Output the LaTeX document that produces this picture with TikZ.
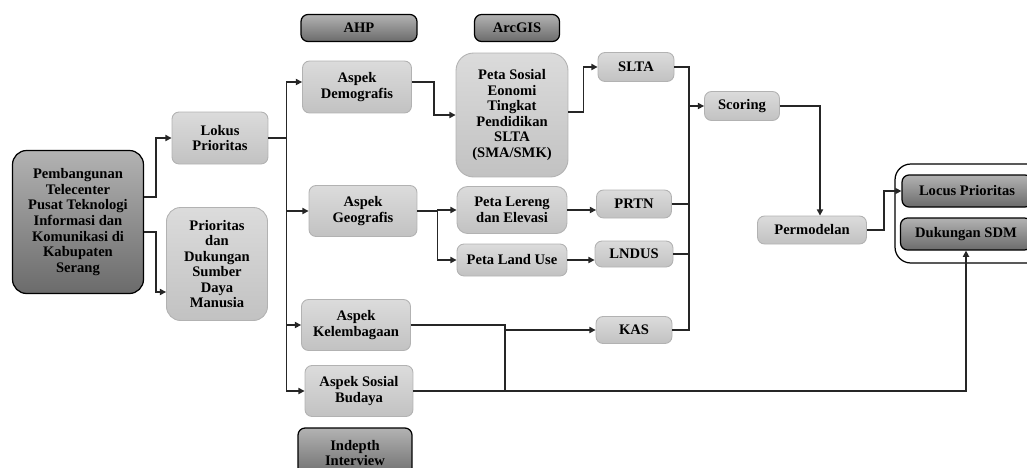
\documentclass[tikz,border=0pt]{standalone}
\usepackage{fontspec}
\setmainfont{Liberation Serif}
\usetikzlibrary{arrows.meta}
\tikzset{
    boxtext/.style={align=center, inner sep=0pt, font=\fontsize{8.3}{8.85}\selectfont\bfseries},
    lbox/.style={boxtext, draw=gray!60, line width=0.5pt, rounded corners=4pt, top color=gray!28, bottom color=gray!48},
    dbox/.style={boxtext, draw=black, line width=0.7pt, rounded corners=4pt, top color=black!30, bottom color=black!58},
    conn/.style={draw=black!85, line width=0.75pt},
    arr/.style={conn, -{Triangle[length=3.5pt,width=3.5pt]}}
}
\begin{document}
\begin{tikzpicture}[x=0.02cm,y=-0.02cm]
    \useasboundingbox (0,0) rectangle (1027,467);
    \clip (0,0) rectangle (1027,467);
    \node[dbox, minimum width=2.32cm, minimum height=0.54cm] (ahp) at (359,28) {AHP};
    \node[dbox, minimum width=1.70cm, minimum height=0.54cm] (arcgis) at (517,28) {ArcGIS};
    \node[dbox, rounded corners=8pt, minimum width=2.62cm, minimum height=2.86cm] (pemb) at (78,222)
        {Pembangunan\\Telecenter\\Pusat Teknologi\\Informasi dan\\Komunikasi di\\Kabupaten\\Serang};
    \node[lbox, minimum width=1.92cm, minimum height=1.04cm] (lokus) at (220,138) {Lokus\\Prioritas};
    \node[lbox, rounded corners=8pt, minimum width=2.02cm, minimum height=2.26cm] (prioritas) at (217,264)
        {Prioritas\\dan\\Dukungan\\Sumber\\Daya\\Manusia};
    \node[lbox, minimum width=2.18cm, minimum height=1.04cm] (demo) at (357,87) {Aspek\\Demografis};
    \node[lbox, minimum width=2.16cm, minimum height=1.02cm] (geo) at (363,211) {Aspek\\Geografis};
    \node[lbox, minimum width=2.18cm, minimum height=1.02cm] (lembaga) at (356,325) {Aspek\\Kelembagaan};
    \node[lbox, minimum width=2.16cm, minimum height=1.02cm] (sosbud) at (359,391) {Aspek Sosial\\Budaya};
    \node[dbox, minimum width=2.28cm, minimum height=1.0cm] (indepth) at (355,453) {Indepth\\Interview};
    \node[lbox, rounded corners=10pt, minimum width=2.24cm, minimum height=2.48cm] (petasos) at (512,115)
        {Peta Sosial\\Eonomi\\Tingkat\\Pendidikan\\SLTA\\(SMA/SMK)};
    \node[lbox, rounded corners=6pt, minimum width=2.20cm, minimum height=0.94cm] (lereng) at (512,210) {Peta Lereng\\dan Elevasi};
    \node[lbox, minimum width=2.20cm, minimum height=0.64cm] (landuse) at (512,260) {Peta Land Use};
    \node[lbox, minimum width=1.52cm, minimum height=0.58cm] (slta) at (636,67) {SLTA};
    \node[lbox, minimum width=1.50cm, minimum height=0.56cm] (prtn) at (634,204) {PRTN};
    \node[lbox, minimum width=1.56cm, minimum height=0.52cm] (lndus) at (634,254) {LNDUS};
    \node[lbox, minimum width=1.52cm, minimum height=0.54cm] (kas) at (634,330) {KAS};
    \node[lbox, minimum width=1.50cm, minimum height=0.58cm] (scoring) at (742,106) {Scoring};
    \node[lbox, minimum width=2.18cm, minimum height=0.56cm] (permodel) at (812,230) {Permodelan};
    \node[draw, line width=0.7pt, rounded corners=9pt, minimum width=3.0cm, minimum height=1.98cm] (hasil) at (970,213.5) {};
    \node[dbox, minimum width=2.60cm, minimum height=0.64cm] (locus) at (967,191) {Locus Prioritas};
    \node[dbox, minimum width=2.62cm, minimum height=0.64cm] (dukungan) at (966,234) {Dukungan SDM};
    \draw[arr] ([yshift=0.5cm]pemb.east) -- ++(12,0) |- (lokus.west);
    \draw[arr] ([yshift=-0.2cm]pemb.east) -- ++(12,0) |- ([yshift=-0.56cm]prioritas.west);
    \draw[conn, line width=1pt] (lokus.east) -- ++(18,0) coordinate (t_1);
    \draw[arr] (t_1) |- ([yshift=0.1cm]demo.west);
    \draw[arr] (t_1) |- (geo.west);
    \draw[arr] (t_1) |- (lembaga.west);
    \draw[arr] (t_1) |- (sosbud.west);
    \draw[arr] ([yshift=0.1cm]demo.east) -- ++(22,0) |- (petasos.west);
    \draw[arr] ([yshift=0.06cm]petasos.east) -- ++(15,0) |- (slta.west);
    \draw[conn, line width=1pt] (geo.east) -- ++(20,0) coordinate (g_1);
    \draw[arr] (g_1) |- (lereng.west);
    \draw[arr] (g_1) |- (landuse.west);
    \draw[arr] (lereng.east) -- (lereng.east -| prtn.west);
    \draw[arr] (landuse.east) -- (landuse.east -| lndus.west);
    \coordinate (col) at (689,0);
    \draw[conn] (slta.east) -- (slta.east -| col) -- (kas.east -| col) -- (kas.east);
    \draw[conn] (prtn.east) -- (prtn.east -| col);
    \draw[conn] (lndus.east) -- (lndus.east -| col);
    \draw[arr] (scoring.west -| col) -- (scoring.west);
    \draw[arr] (scoring.east) -| ([xshift=0.16cm]permodel.north);
    \draw[arr] (permodel.east) -- ++(17,0) |- (locus.west);
    \draw[conn] (lembaga.east) -- ++(94,0) coordinate (b_1) -- (b_1 |- sosbud.east);
    \draw[arr] (b_1 |- kas.west) -- (kas.west);
    \draw[arr] (sosbud.east) -| (dukungan.south);
\end{tikzpicture}
\end{document}
